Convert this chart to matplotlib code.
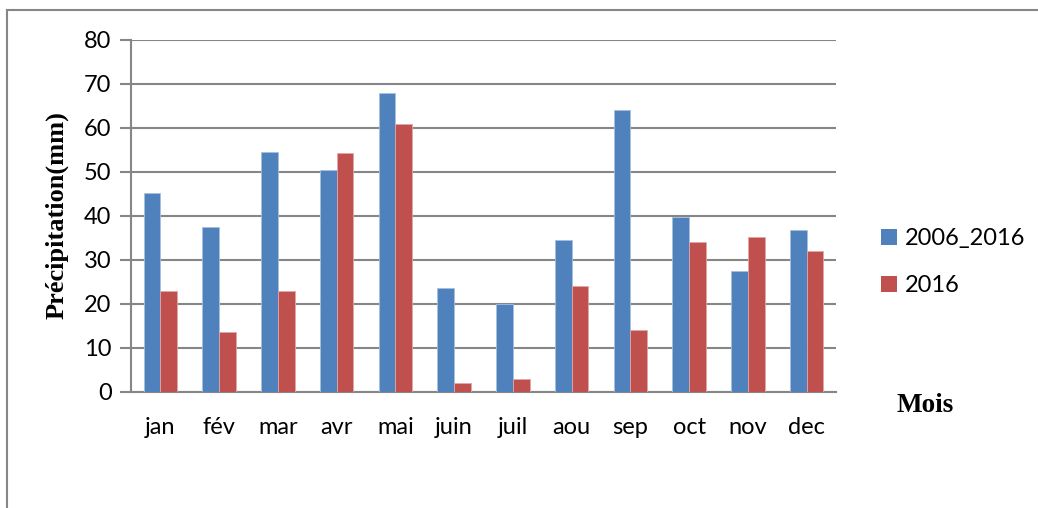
import matplotlib
matplotlib.use("Agg")
import matplotlib.pyplot as plt
import numpy as np
from matplotlib.patches import Patch
from matplotlib.lines import Line2D

months = ["jan", "fév", "mar", "avr", "mai", "juin", "juil", "aou", "sep", "oct", "nov", "dec"]
s_2006_2016 = [45.2, 37.4, 54.5, 50.4, 68.0, 23.6, 20.1, 34.5, 64.2, 39.8, 27.4, 36.8]
s_2016 = [23.0, 13.6, 23.0, 54.3, 60.8, 2.0, 3.0, 24.0, 14.1, 34.1, 35.2, 32.0]
yticks = [0, 10, 20, 30, 40, 50, 60, 70, 80]

blue = "#4F81BD"
red = "#C0504D"
grid = "#868686"
fam = ["Lato", "DejaVu Sans"]

W, H = 1038, 508
fig = plt.figure(figsize=(W / 100, H / 100), dpi=100)
ax = fig.add_axes([131 / W, 1 - 392 / H, (836 - 131) / W, (392 - 40) / H])

x = np.arange(len(months))
bw = 1 / 3.5
ax.bar(x - bw / 2, s_2006_2016, width=bw, color=blue, edgecolor="#A7BFDE", linewidth=0.6, zorder=3)
ax.bar(x + bw / 2, s_2016, width=bw, color=red, edgecolor="#DFA7A6", linewidth=0.6, zorder=3)

ax.set_xlim(-0.5, len(months) - 0.5)
ax.set_ylim(0, 80)
ax.set_yticks(yticks)
ax.set_xticks(x)
ax.set_xticklabels(months)
for lab in ax.get_yticklabels() + ax.get_xticklabels():
    lab.set_fontfamily(fam)
    lab.set_fontsize(17)
ax.tick_params(axis="y", length=8, width=1.5, color=grid, pad=6)
ax.tick_params(axis="x", length=0, pad=18)
ax.yaxis.grid(True, color=grid, linewidth=1.5, zorder=0)
ax.set_axisbelow(True)
for side in ["top", "right"]:
    ax.spines[side].set_visible(False)
for side in ["left", "bottom"]:
    ax.spines[side].set_color(grid)
    ax.spines[side].set_linewidth(1.5)

fig.text(57 / W, 1 - 215 / H, "Précipitation(mm)", rotation=90, ha="center", va="center",
         family="Liberation Serif", fontweight="bold", fontsize=19)
fig.text(925 / W, 1 - 406 / H, "Mois", ha="center", va="center",
         family="Liberation Serif", fontweight="bold", fontsize=19.5)

handles = [Patch(facecolor=blue, edgecolor="none"), Patch(facecolor=red, edgecolor="none")]
fig.legend(handles, ["2006_2016", "2016"], loc="upper left", bbox_to_anchor=(872 / W, 1 - 219 / H),
           frameon=False, prop=dict(family="Lato", size=17), handlelength=0.65, handleheight=0.65,
           handletextpad=0.35, labelspacing=1.1, borderaxespad=0)

# outer border (top and left)
fig.add_artist(Line2D([7 / W, 1], [1 - 10 / H, 1 - 10 / H], transform=fig.transFigure, color=grid, linewidth=1.5))
fig.add_artist(Line2D([7 / W, 7 / W], [0, 1 - 10 / H], transform=fig.transFigure, color=grid, linewidth=1.5))

fig.savefig("out.png", dpi=100)
